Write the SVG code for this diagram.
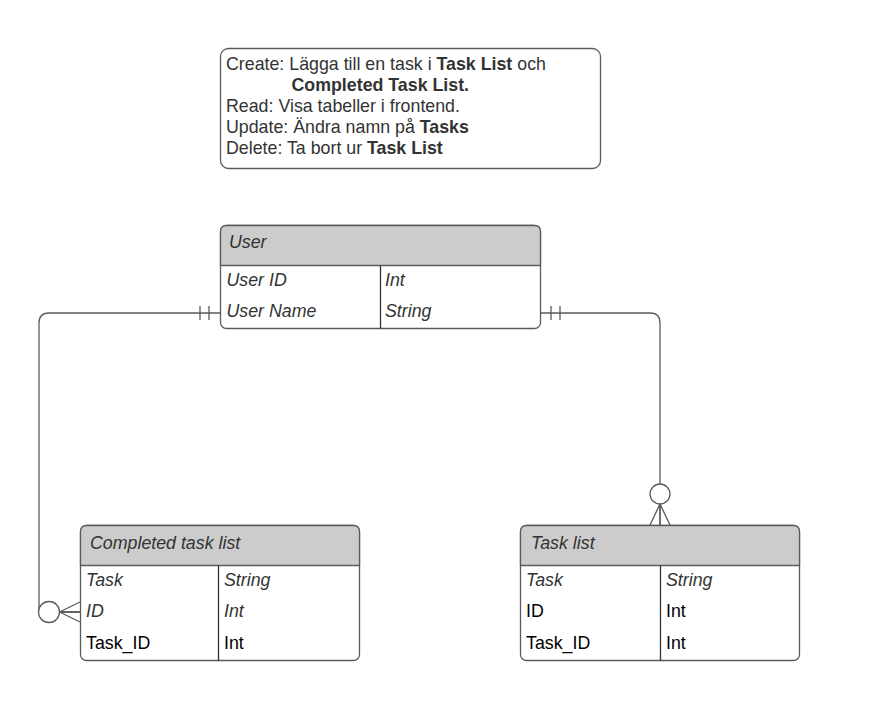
<svg xmlns="http://www.w3.org/2000/svg" width="873" height="713" viewBox="0 0 873 713">
<style>
text{font-family:"Liberation Sans",Arial,sans-serif;font-size:17.8px;fill:#333}
.it{font-style:italic}
.bk{fill:#000}
.b{font-weight:bold}
.box{fill:#fff;stroke:#5a5a5a;stroke-width:1.3}
.hd{fill:#cccccc;stroke:#5a5a5a;stroke-width:1.3}
.ln{fill:none;stroke:#5a5a5a;stroke-width:1.3}
.dv{stroke:#333;stroke-width:1.3}
</style>
<rect width="873" height="713" fill="#fff"/>
<g id="note">
<rect class="box" x="220.5" y="48.5" width="380" height="120" rx="8"/>
<text x="226" y="70">Create: Lägga till en task i <tspan class="b">Task List</tspan> och</text>
<text x="291.5" y="91" class="b">Completed Task List.</text>
<text x="226" y="112">Read: Visa tabeller i frontend.</text>
<text x="226" y="133">Update: Ändra namn på <tspan class="b">Tasks</tspan></text>
<text x="226" y="154">Delete: Ta bort ur <tspan class="b">Task List</tspan></text>
</g>
<g id="connectors">
<path class="ln" d="M220,313 H49 Q39,313 39,323 V612 H80"/>
<path class="ln" d="M200,306 V320 M209,306 V320"/>
<circle class="box" cx="49" cy="612" r="10.5"/>
<path class="ln" d="M59.5,612 L80,602 M59.5,612 L80,612 M59.5,612 L80,622"/>
<path class="ln" d="M540,313 H650 Q660,313 660,323 V525"/>
<path class="ln" d="M551,306 V320 M560,306 V320"/>
<circle class="box" cx="660" cy="494" r="10"/>
<path class="ln" d="M660,504 L650,525 M660,504 L660,525 M660,504 L670,525"/>
</g>
<g id="user">
<rect class="box" x="220.5" y="225.5" width="320" height="103" rx="6"/>
<path class="hd" d="M220.5,265.5 V231.5 Q220.5,225.5 226.5,225.5 H534.5 Q540.5,225.5 540.5,231.5 V265.5 Z"/>
<line class="dv" x1="380.5" y1="265.5" x2="380.5" y2="328.5"/>
<text class="it" x="229" y="248">User</text>
<text class="it" x="226.5" y="285.5">User ID</text>
<text class="it" x="385" y="285.5">Int</text>
<text class="it" x="226.5" y="316.5">User Name</text>
<text class="it" x="385" y="316.5">String</text>
</g>
<g id="completed">
<rect class="box" x="80.5" y="525.5" width="279" height="135" rx="6"/>
<path class="hd" d="M80.5,565.5 V531.5 Q80.5,525.5 86.5,525.5 H353.5 Q359.5,525.5 359.5,531.5 V565.5 Z"/>
<line class="dv" x1="218.5" y1="565.5" x2="218.5" y2="660.5"/>
<text class="it" x="90" y="549">Completed task list</text>
<text class="it" x="86" y="585.5">Task</text>
<text class="it" x="224" y="585.5">String</text>
<text class="it" x="86" y="617">ID</text>
<text class="it" x="224" y="617">Int</text>
<text class="bk" x="86" y="648.5">Task_ID</text>
<text class="bk" x="224" y="648.5">Int</text>
</g>
<g id="tasklist">
<rect class="box" x="520.5" y="525.5" width="279" height="135" rx="6"/>
<path class="hd" d="M520.5,565.5 V531.5 Q520.5,525.5 526.5,525.5 H793.5 Q799.5,525.5 799.5,531.5 V565.5 Z"/>
<line class="dv" x1="660.5" y1="565.5" x2="660.5" y2="660.5"/>
<text class="it" x="531" y="549">Task list</text>
<text class="it" x="526" y="585.5">Task</text>
<text class="it" x="666" y="585.5">String</text>
<text class="bk" x="526" y="617">ID</text>
<text class="bk" x="666" y="617">Int</text>
<text class="bk" x="526" y="648.5">Task_ID</text>
<text class="bk" x="666" y="648.5">Int</text>
</g>
</svg>
